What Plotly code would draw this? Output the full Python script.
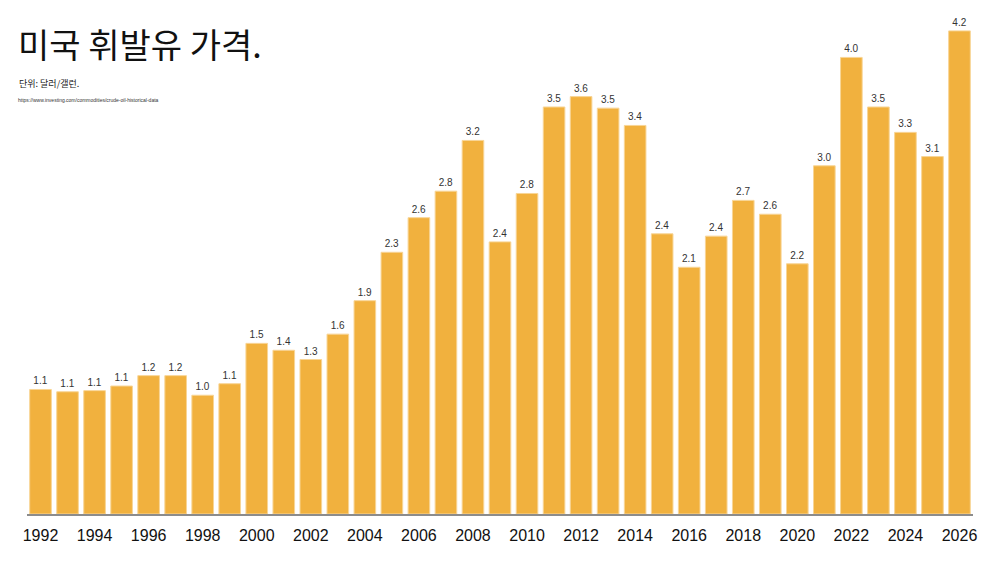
import plotly.graph_objects as go

# US gasoline price, USD per gallon
years = list(range(1992, 2027))
prices = [1.08, 1.06, 1.07, 1.11, 1.20, 1.20, 1.03, 1.13, 1.48, 1.42,
          1.34, 1.56, 1.85, 2.27, 2.57, 2.80, 3.24, 2.36, 2.78, 3.53,
          3.62, 3.52, 3.37, 2.43, 2.14, 2.41, 2.72, 2.60, 2.17, 3.02,
          3.96, 3.53, 3.31, 3.10, 4.19]
tick_years = list(range(1992, 2027, 2))

# page body has an 8px margin, so figure coords = screen coords - 8
OFF = 8
W, H = 1000, 563
L, R, B, T = 27 - OFF, 1000 + OFF - 973, H - (514 - OFF), 0
PW, PH = W - L - R, H - B - T

def px_x(p):
    return (p - OFF - L) / PW

def px_y(p):
    return (H - B - (p - OFF)) / PH

fig = go.Figure()
fig.add_trace(go.Bar(
    x=years, y=prices,
    marker=dict(color='#F1B13E', line=dict(color='#F8D596', width=1)),
    texttemplate='%{y:.1f}', textposition='outside',
    textfont=dict(family='Liberation Sans, Arial', size=10, color='#333333'),
    cliponaxis=False,
))

fig.update_layout(
    width=W, height=H,
    margin=dict(l=L, r=R, t=T, b=B),
    plot_bgcolor='white', paper_bgcolor='white',
    bargap=0.2,
    showlegend=False,
    title=dict(text='미국 휘발유 가격.', x=(18 - OFF) / W, xref='container', xanchor='left',
               y=1 - (46 - OFF) / H, yref='container', yanchor='middle',
               font=dict(family='Noto Sans CJK KR', size=34, color='#111111')),
    annotations=[
        dict(text='단위: 달러/갤런.', x=px_x(17), y=px_y(83), xref='paper', yref='paper',
             xanchor='left', yanchor='middle', showarrow=False,
             font=dict(family='Noto Sans CJK KR', size=9, color='#222222')),
        dict(text='https://www.investing.com/commodities/crude-oil-historical-data',
             x=px_x(16), y=px_y(100), xref='paper', yref='paper',
             xanchor='left', yanchor='middle', showarrow=False,
             font=dict(family='Liberation Sans, Arial', size=5, color='#333333')),
    ],
)
fig.update_xaxes(range=[1991.5, 2026.5], tickvals=tick_years,
                 ticks='outside', ticklen=6, tickcolor='rgba(0,0,0,0)',
                 showline=True, linecolor='#8c8c8c', linewidth=2,
                 showgrid=False, zeroline=False,
                 tickfont=dict(family='Liberation Sans, Arial', size=16, color='#111111'))
fig.update_yaxes(range=[0, (514 - OFF) / 115.3], visible=False, showgrid=False)

fig.write_html('out.html')
